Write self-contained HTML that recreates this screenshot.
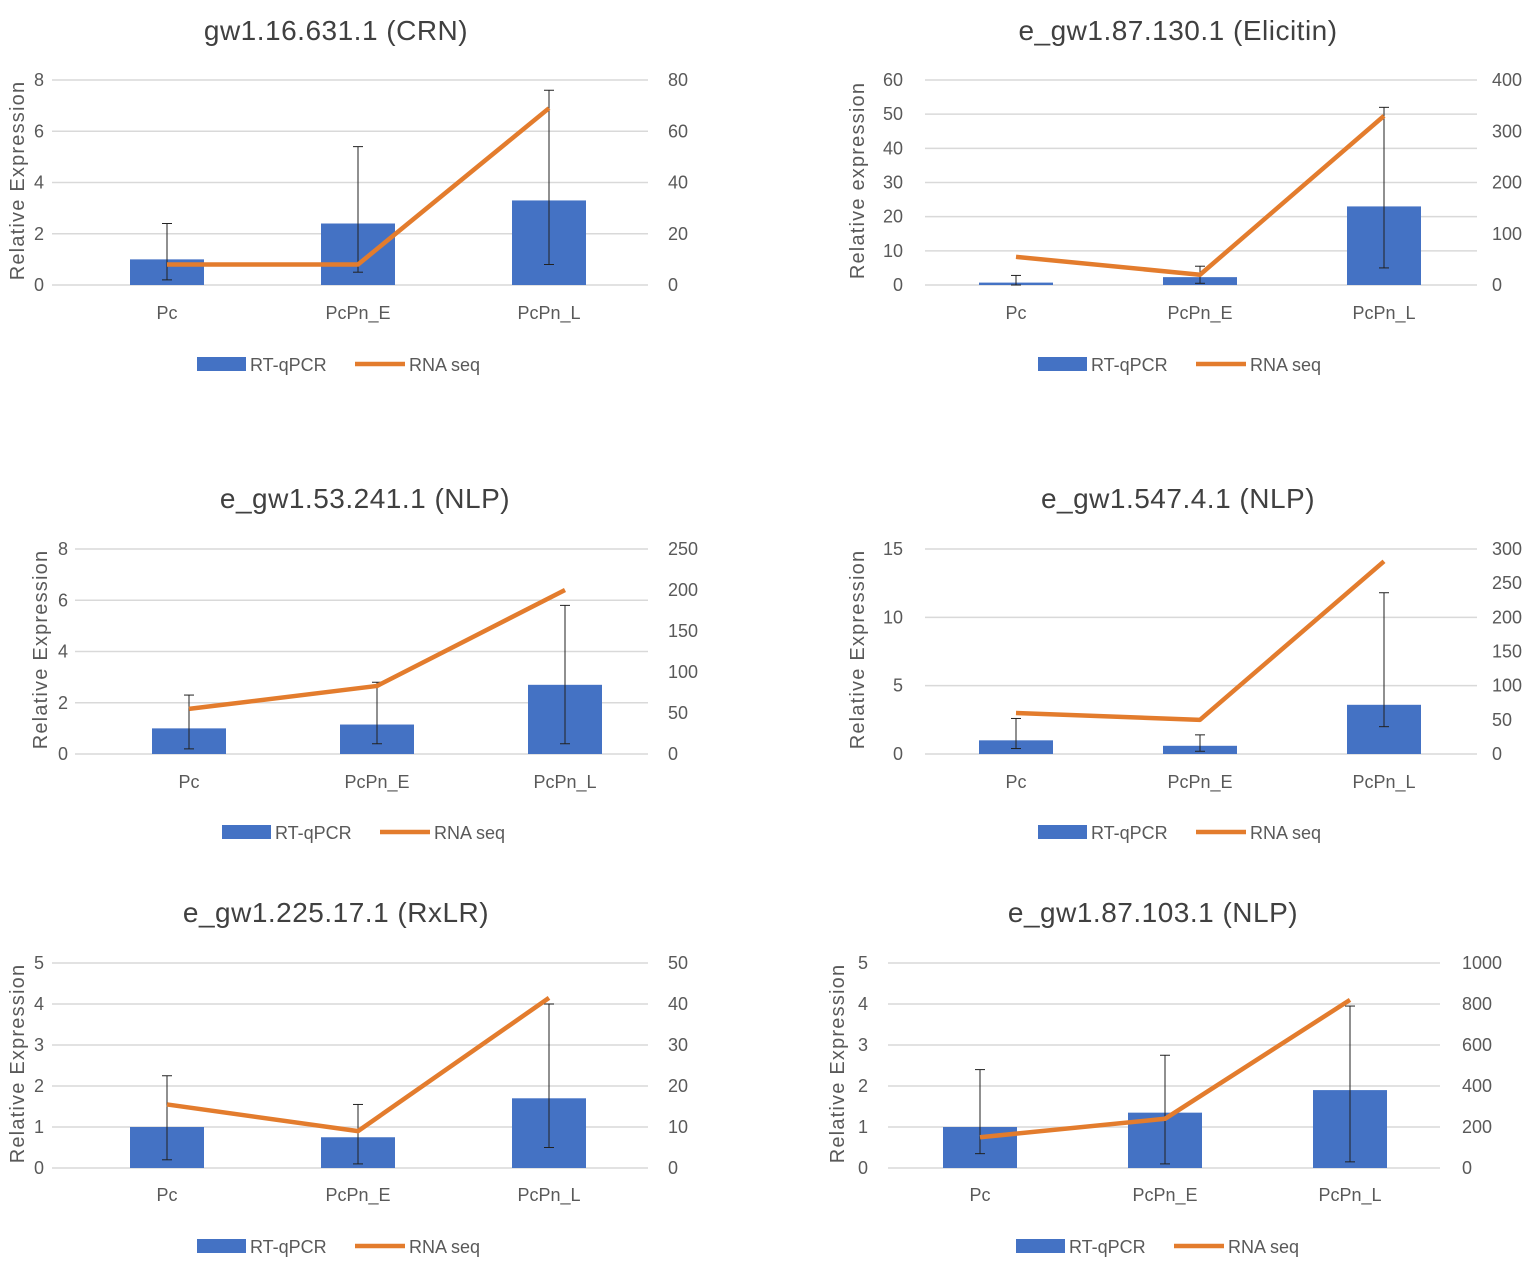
<!DOCTYPE html>
<html><head><meta charset="utf-8"><style>
html,body{margin:0;padding:0;background:#fff;}
svg{display:block;font-family:"Liberation Sans",sans-serif;}
</style></head><body>
<svg id="s" width="1535" height="1262" viewBox="0 0 1535 1262" xmlns="http://www.w3.org/2000/svg"></svg>
<script>
const charts=[
{title:"gw1.16.631.1 (CRN)",tx:336,ty:30,yt:"Relative Expression",ytx:18,x0:52,x1:648,top:80,bot:285,lmax:8,
 ll:["0","2","4","6","8"],rmax:80,rl:["0","20","40","60","80"],lx:44,rx:668,cx:[167,358,549],
 bars:[1,2.4,3.3],err:[[0.2,2.4],[0.5,5.4],[0.8,7.6]],line:[8,8,69],xly:313,legy:364,legx:197},
{title:"e_gw1.87.130.1  (Elicitin)",tx:1178,ty:30,yt:"Relative expression",ytx:858,x0:925,x1:1477,top:80,bot:285,lmax:60,
 ll:["0","10","20","30","40","50","60"],rmax:400,rl:["0","100","200","300","400"],lx:903,rx:1492,cx:[1016,1200,1384],
 bars:[0.7,2.3,23],err:[[0,2.8],[0.5,5.5],[5,52]],line:[55,20,330],xly:313,legy:364,legx:1038},
{title:"e_gw1.53.241.1 (NLP)",tx:365,ty:498,yt:"Relative Expression",ytx:41,x0:75,x1:648,top:549,bot:754,lmax:8,
 ll:["0","2","4","6","8"],rmax:250,rl:["0","50","100","150","200","250"],lx:68,rx:668,cx:[189,377,565],
 bars:[1,1.15,2.7],err:[[0.2,2.3],[0.4,2.8],[0.4,5.8]],line:[55,83,200],xly:782,legy:832,legx:222},
{title:"e_gw1.547.4.1 (NLP)",tx:1178,ty:498,yt:"Relative Expression",ytx:858,x0:925,x1:1477,top:549,bot:754,lmax:15,
 ll:["0","5","10","15"],rmax:300,rl:["0","50","100","150","200","250","300"],lx:903,rx:1492,cx:[1016,1200,1384],
 bars:[1,0.6,3.6],err:[[0.4,2.6],[0.2,1.4],[2,11.8]],line:[60,50,282],xly:782,legy:832,legx:1038},
{title:"e_gw1.225.17.1 (RxLR)",tx:336,ty:912,yt:"Relative Expression",ytx:18,x0:52,x1:648,top:963,bot:1168,lmax:5,
 ll:["0","1","2","3","4","5"],rmax:50,rl:["0","10","20","30","40","50"],lx:44,rx:668,cx:[167,358,549],
 bars:[1,0.75,1.7],err:[[0.2,2.25],[0.1,1.55],[0.5,4.0]],line:[15.5,9,41.5],xly:1195,legy:1246,legx:197},
{title:"e_gw1.87.103.1 (NLP)",tx:1153,ty:912,yt:"Relative Expression",ytx:838,x0:888,x1:1440,top:963,bot:1168,lmax:5,
 ll:["0","1","2","3","4","5"],rmax:1000,rl:["0","200","400","600","800","1000"],lx:868,rx:1462,cx:[980,1165,1350],
 bars:[1,1.35,1.9],err:[[0.35,2.4],[0.1,2.75],[0.15,3.95]],line:[150,240,820],xly:1195,legy:1246,legx:1016}
];
const cats=["Pc","PcPn_E","PcPn_L"];
let h="";
const G="#595959";
for(const c of charts){
 const H=c.bot-c.top;
 const yl=v=>c.bot-v/c.lmax*H, yr=v=>c.bot-v/c.rmax*H;
 h+=`<text x="${c.tx}" y="${c.ty+10}" font-size="28" fill="#404040" text-anchor="middle" letter-spacing="0.5">${c.title}</text>`;
 c.ll.forEach((t,i)=>{const y=c.bot-i*H/(c.ll.length-1);
  h+=`<line x1="${c.x0}" x2="${c.x1}" y1="${y}" y2="${y}" stroke="#d9d9d9" stroke-width="1.5"/>`;
  h+=`<text x="${c.lx}" y="${y+6}" font-size="18" fill="${G}" text-anchor="end">${t}</text>`;});
 c.rl.forEach((t,i)=>{const y=c.bot-i*H/(c.rl.length-1);
  h+=`<text x="${c.rx}" y="${y+6}" font-size="18" fill="${G}">${t}</text>`;});
 const my=(c.top+c.bot)/2-2;
 h+=`<text x="${c.ytx}" y="${my}" font-size="20" fill="${G}" text-anchor="middle" letter-spacing="1.2" transform="rotate(-90 ${c.ytx} ${my})" dy="6">${c.yt}</text>`;
 c.cx.forEach((x,i)=>{
  const y=yl(c.bars[i]);
  h+=`<rect x="${x-37}" y="${y}" width="74" height="${c.bot-y}" fill="#4472c4"/>`;
  h+=`<text x="${x}" y="${c.xly+6}" font-size="18" fill="${G}" text-anchor="middle">${cats[i]}</text>`;
 });
 c.cx.forEach((x,i)=>{
  const a=yl(c.err[i][0]),b=yl(c.err[i][1]);
  h+=`<line x1="${x}" x2="${x}" y1="${a}" y2="${b}" stroke="#222" stroke-width="1"/>`;
  h+=`<line x1="${x-5}" x2="${x+5}" y1="${a}" y2="${a}" stroke="#222"/><line x1="${x-5}" x2="${x+5}" y1="${b}" y2="${b}" stroke="#222"/>`;
 });
 h+=`<polyline points="${c.cx.map((x,i)=>x+","+yr(c.line[i])).join(" ")}" fill="none" stroke="#e37c2d" stroke-width="4.5" stroke-linejoin="round"/>`;
 const L=c.legx;
 h+=`<rect x="${L}" y="${c.legy-7}" width="49" height="14" fill="#4472c4"/>`;
 h+=`<text x="${L+53}" y="${c.legy+7}" font-size="18" fill="${G}">RT-qPCR</text>`;
 h+=`<line x1="${L+158}" x2="${L+208}" y1="${c.legy}" y2="${c.legy}" stroke="#e37c2d" stroke-width="4.5"/>`;
 h+=`<text x="${L+212}" y="${c.legy+7}" font-size="18" fill="${G}">RNA seq</text>`;
}
document.getElementById("s").innerHTML=h;
</script>
</body></html>
